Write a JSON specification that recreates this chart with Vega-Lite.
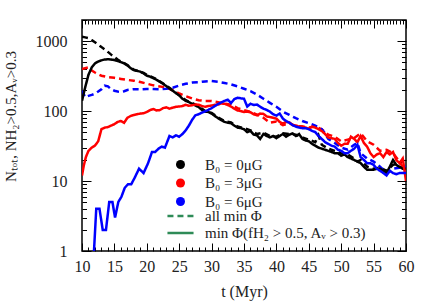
{
  "$schema": "https://vega.github.io/schema/vega-lite/v6.json",
  "autosize": {"type": "none"},
  "width": 324,
  "height": 231,
  "padding": {"left": 82, "top": 20, "right": 30, "bottom": 54},
  "background": "white",
  "config": {
    "view": {"stroke": "black", "strokeWidth": 1.5},
    "axis": {
      "labelFont": "Liberation Serif", "labelFontSize": 16, "labelColor": "#222",
      "titleFont": "Liberation Serif", "titleFontSize": 16, "titleColor": "#222", "titleFontWeight": "normal",
      "tickColor": "black", "tickWidth": 1, "domain": false, "grid": false, "labelOverlap": false, "labelFlush": false
    },
    "legend": {"labelFont": "Liberation Serif", "labelFontSize": 15, "labelColor": "#222", "labelLimit": 400}
  },
  "data": {"values": [
    {"t":10,"N":140,"B":"B₀ = 0μG","k":"s"},{"t":10.5,"N":220,"B":"B₀ = 0μG","k":"s"},{"t":11,"N":330,"B":"B₀ = 0μG","k":"s"},{"t":11.5,"N":420,"B":"B₀ = 0μG","k":"s"},{"t":12,"N":480,"B":"B₀ = 0μG","k":"s"},{"t":12.5,"N":510,"B":"B₀ = 0μG","k":"s"},{"t":13,"N":530,"B":"B₀ = 0μG","k":"s"},{"t":13.5,"N":545,"B":"B₀ = 0μG","k":"s"},{"t":14,"N":550,"B":"B₀ = 0μG","k":"s"},{"t":14.5,"N":545,"B":"B₀ = 0μG","k":"s"},{"t":15,"N":535,"B":"B₀ = 0μG","k":"s"},{"t":15.5,"N":520,"B":"B₀ = 0μG","k":"s"},{"t":16,"N":500,"B":"B₀ = 0μG","k":"s"},{"t":16.5,"N":480,"B":"B₀ = 0μG","k":"s"},{"t":17,"N":450,"B":"B₀ = 0μG","k":"s"},{"t":17.5,"N":410,"B":"B₀ = 0μG","k":"s"},{"t":18,"N":385,"B":"B₀ = 0μG","k":"s"},{"t":18.5,"N":375,"B":"B₀ = 0μG","k":"s"},{"t":19,"N":365,"B":"B₀ = 0μG","k":"s"},{"t":19.5,"N":345,"B":"B₀ = 0μG","k":"s"},{"t":20,"N":320,"B":"B₀ = 0μG","k":"s"},{"t":20.5,"N":310,"B":"B₀ = 0μG","k":"s"},{"t":21,"N":295,"B":"B₀ = 0μG","k":"s"},{"t":21.5,"N":280,"B":"B₀ = 0μG","k":"s"},{"t":22,"N":262,"B":"B₀ = 0μG","k":"s"},{"t":22.5,"N":245,"B":"B₀ = 0μG","k":"s"},{"t":23,"N":228,"B":"B₀ = 0μG","k":"s"},{"t":23.5,"N":210,"B":"B₀ = 0μG","k":"s"},{"t":24,"N":195,"B":"B₀ = 0μG","k":"s"},{"t":24.5,"N":180,"B":"B₀ = 0μG","k":"s"},{"t":25,"N":167,"B":"B₀ = 0μG","k":"s"},{"t":25.5,"N":150,"B":"B₀ = 0μG","k":"s"},{"t":26,"N":140,"B":"B₀ = 0μG","k":"s"},{"t":26.5,"N":134,"B":"B₀ = 0μG","k":"s"},{"t":27,"N":127,"B":"B₀ = 0μG","k":"s"},{"t":27.5,"N":120,"B":"B₀ = 0μG","k":"s"},{"t":28,"N":114,"B":"B₀ = 0μG","k":"s"},{"t":28.5,"N":104,"B":"B₀ = 0μG","k":"s"},{"t":29,"N":98,"B":"B₀ = 0μG","k":"s"},{"t":29.5,"N":97,"B":"B₀ = 0μG","k":"s"},{"t":30,"N":92,"B":"B₀ = 0μG","k":"s"},{"t":30.5,"N":85,"B":"B₀ = 0μG","k":"s"},{"t":31,"N":79,"B":"B₀ = 0μG","k":"s"},{"t":31.5,"N":74,"B":"B₀ = 0μG","k":"s"},{"t":32,"N":70,"B":"B₀ = 0μG","k":"s"},{"t":32.5,"N":68,"B":"B₀ = 0μG","k":"s"},{"t":33,"N":67,"B":"B₀ = 0μG","k":"s"},{"t":33.5,"N":62,"B":"B₀ = 0μG","k":"s"},{"t":34,"N":58,"B":"B₀ = 0μG","k":"s"},{"t":34.5,"N":57,"B":"B₀ = 0μG","k":"s"},{"t":35,"N":55,"B":"B₀ = 0μG","k":"s"},{"t":35.5,"N":50,"B":"B₀ = 0μG","k":"s"},{"t":36,"N":52,"B":"B₀ = 0μG","k":"s"},{"t":36.5,"N":46,"B":"B₀ = 0μG","k":"s"},{"t":37,"N":45,"B":"B₀ = 0μG","k":"s"},{"t":37.5,"N":40,"B":"B₀ = 0μG","k":"s"},{"t":38,"N":47,"B":"B₀ = 0μG","k":"s"},{"t":38.5,"N":44,"B":"B₀ = 0μG","k":"s"},{"t":39,"N":42,"B":"B₀ = 0μG","k":"s"},{"t":39.5,"N":44,"B":"B₀ = 0μG","k":"s"},{"t":40,"N":41,"B":"B₀ = 0μG","k":"s"},{"t":40.5,"N":44,"B":"B₀ = 0μG","k":"s"},{"t":41,"N":47,"B":"B₀ = 0μG","k":"s"},{"t":41.5,"N":43,"B":"B₀ = 0μG","k":"s"},{"t":42,"N":46,"B":"B₀ = 0μG","k":"s"},{"t":42.5,"N":48,"B":"B₀ = 0μG","k":"s"},{"t":43,"N":44,"B":"B₀ = 0μG","k":"s"},{"t":43.5,"N":47,"B":"B₀ = 0μG","k":"s"},{"t":44,"N":40,"B":"B₀ = 0μG","k":"s"},{"t":44.5,"N":38,"B":"B₀ = 0μG","k":"s"},{"t":45,"N":37,"B":"B₀ = 0μG","k":"s"},{"t":45.5,"N":34,"B":"B₀ = 0μG","k":"s"},{"t":46,"N":32,"B":"B₀ = 0μG","k":"s"},{"t":46.5,"N":30,"B":"B₀ = 0μG","k":"s"},{"t":47,"N":29,"B":"B₀ = 0μG","k":"s"},{"t":47.5,"N":28,"B":"B₀ = 0μG","k":"s"},{"t":48,"N":27,"B":"B₀ = 0μG","k":"s"},{"t":48.5,"N":26,"B":"B₀ = 0μG","k":"s"},{"t":49,"N":25,"B":"B₀ = 0μG","k":"s"},{"t":49.5,"N":25,"B":"B₀ = 0μG","k":"s"},{"t":50,"N":23,"B":"B₀ = 0μG","k":"s"},{"t":50.5,"N":24,"B":"B₀ = 0μG","k":"s"},{"t":51,"N":22,"B":"B₀ = 0μG","k":"s"},{"t":51.5,"N":21,"B":"B₀ = 0μG","k":"s"},{"t":52,"N":20,"B":"B₀ = 0μG","k":"s"},{"t":52.5,"N":19,"B":"B₀ = 0μG","k":"s"},{"t":53,"N":18,"B":"B₀ = 0μG","k":"s"},{"t":53.5,"N":16,"B":"B₀ = 0μG","k":"s"},{"t":54,"N":14.5,"B":"B₀ = 0μG","k":"s"},{"t":54.5,"N":14.5,"B":"B₀ = 0μG","k":"s"},{"t":55,"N":14.5,"B":"B₀ = 0μG","k":"s"},{"t":55.5,"N":15,"B":"B₀ = 0μG","k":"s"},{"t":56,"N":15,"B":"B₀ = 0μG","k":"s"},{"t":56.5,"N":14,"B":"B₀ = 0μG","k":"s"},{"t":57,"N":13,"B":"B₀ = 0μG","k":"s"},{"t":57.5,"N":16,"B":"B₀ = 0μG","k":"s"},{"t":58,"N":20,"B":"B₀ = 0μG","k":"s"},{"t":58.5,"N":17,"B":"B₀ = 0μG","k":"s"},{"t":59,"N":16,"B":"B₀ = 0μG","k":"s"},{"t":59.5,"N":15,"B":"B₀ = 0μG","k":"s"},{"t":60,"N":15,"B":"B₀ = 0μG","k":"s"},

    {"t":10,"N":1150,"B":"B₀ = 0μG","k":"d"},{"t":10.5,"N":1130,"B":"B₀ = 0μG","k":"d"},{"t":11,"N":1100,"B":"B₀ = 0μG","k":"d"},{"t":11.5,"N":1030,"B":"B₀ = 0μG","k":"d"},{"t":12,"N":960,"B":"B₀ = 0μG","k":"d"},{"t":12.5,"N":890,"B":"B₀ = 0μG","k":"d"},{"t":13,"N":820,"B":"B₀ = 0μG","k":"d"},{"t":13.5,"N":760,"B":"B₀ = 0μG","k":"d"},{"t":14,"N":700,"B":"B₀ = 0μG","k":"d"},{"t":14.5,"N":640,"B":"B₀ = 0μG","k":"d"},{"t":15,"N":590,"B":"B₀ = 0μG","k":"d"},{"t":15.5,"N":545,"B":"B₀ = 0μG","k":"d"},{"t":16,"N":510,"B":"B₀ = 0μG","k":"d"},{"t":16.5,"N":485,"B":"B₀ = 0μG","k":"d"},{"t":17,"N":455,"B":"B₀ = 0μG","k":"d"},{"t":17.5,"N":420,"B":"B₀ = 0μG","k":"d"},{"t":18,"N":390,"B":"B₀ = 0μG","k":"d"},{"t":18.5,"N":378,"B":"B₀ = 0μG","k":"d"},{"t":19,"N":368,"B":"B₀ = 0μG","k":"d"},{"t":19.5,"N":350,"B":"B₀ = 0μG","k":"d"},{"t":20,"N":328,"B":"B₀ = 0μG","k":"d"},{"t":20.5,"N":315,"B":"B₀ = 0μG","k":"d"},{"t":21,"N":300,"B":"B₀ = 0μG","k":"d"},{"t":21.5,"N":285,"B":"B₀ = 0μG","k":"d"},{"t":22,"N":265,"B":"B₀ = 0μG","k":"d"},{"t":23,"N":232,"B":"B₀ = 0μG","k":"d"},{"t":24,"N":198,"B":"B₀ = 0μG","k":"d"},{"t":25,"N":170,"B":"B₀ = 0μG","k":"d"},{"t":26,"N":143,"B":"B₀ = 0μG","k":"d"},{"t":27,"N":130,"B":"B₀ = 0μG","k":"d"},{"t":28,"N":117,"B":"B₀ = 0μG","k":"d"},{"t":29,"N":100,"B":"B₀ = 0μG","k":"d"},{"t":30,"N":94,"B":"B₀ = 0μG","k":"d"},{"t":31,"N":81,"B":"B₀ = 0μG","k":"d"},{"t":32,"N":72,"B":"B₀ = 0μG","k":"d"},{"t":33,"N":69,"B":"B₀ = 0μG","k":"d"},{"t":33.5,"N":64,"B":"B₀ = 0μG","k":"d"},{"t":34,"N":60,"B":"B₀ = 0μG","k":"d"},{"t":35,"N":57,"B":"B₀ = 0μG","k":"d"},{"t":36,"N":53,"B":"B₀ = 0μG","k":"d"},{"t":37,"N":47,"B":"B₀ = 0μG","k":"d"},{"t":38,"N":49,"B":"B₀ = 0μG","k":"d"},{"t":39,"N":44,"B":"B₀ = 0μG","k":"d"},{"t":40,"N":43,"B":"B₀ = 0μG","k":"d"},{"t":41,"N":48,"B":"B₀ = 0μG","k":"d"},{"t":42,"N":47,"B":"B₀ = 0μG","k":"d"},{"t":43,"N":46,"B":"B₀ = 0μG","k":"d"},{"t":44,"N":42,"B":"B₀ = 0μG","k":"d"},{"t":45,"N":39,"B":"B₀ = 0μG","k":"d"},{"t":46,"N":36,"B":"B₀ = 0μG","k":"d"},{"t":46.5,"N":45,"B":"B₀ = 0μG","k":"d"},{"t":47,"N":33,"B":"B₀ = 0μG","k":"d"},{"t":48,"N":29,"B":"B₀ = 0μG","k":"d"},{"t":49,"N":27,"B":"B₀ = 0μG","k":"d"},{"t":50,"N":25,"B":"B₀ = 0μG","k":"d"},{"t":51,"N":24,"B":"B₀ = 0μG","k":"d"},{"t":52,"N":21,"B":"B₀ = 0μG","k":"d"},{"t":52.5,"N":19,"B":"B₀ = 0μG","k":"d"},{"t":53,"N":20,"B":"B₀ = 0μG","k":"d"},{"t":54,"N":16,"B":"B₀ = 0μG","k":"d"},{"t":55,"N":15,"B":"B₀ = 0μG","k":"d"},{"t":56,"N":15.5,"B":"B₀ = 0μG","k":"d"},{"t":57,"N":14,"B":"B₀ = 0μG","k":"d"},{"t":58,"N":17,"B":"B₀ = 0μG","k":"d"},{"t":59,"N":18,"B":"B₀ = 0μG","k":"d"},{"t":60,"N":21,"B":"B₀ = 0μG","k":"d"},

    {"t":10,"N":12,"B":"B₀ = 3μG","k":"s"},{"t":10.3,"N":17,"B":"B₀ = 3μG","k":"s"},{"t":10.6,"N":22,"B":"B₀ = 3μG","k":"s"},{"t":11,"N":27,"B":"B₀ = 3μG","k":"s"},{"t":11.5,"N":30,"B":"B₀ = 3μG","k":"s"},{"t":12,"N":32,"B":"B₀ = 3μG","k":"s"},{"t":12.5,"N":37,"B":"B₀ = 3μG","k":"s"},{"t":13,"N":55,"B":"B₀ = 3μG","k":"s"},{"t":13.5,"N":58,"B":"B₀ = 3μG","k":"s"},{"t":14,"N":59,"B":"B₀ = 3μG","k":"s"},{"t":14.5,"N":62,"B":"B₀ = 3μG","k":"s"},{"t":15,"N":65,"B":"B₀ = 3μG","k":"s"},{"t":15.5,"N":70,"B":"B₀ = 3μG","k":"s"},{"t":16,"N":72,"B":"B₀ = 3μG","k":"s"},{"t":16.5,"N":68,"B":"B₀ = 3μG","k":"s"},{"t":17,"N":80,"B":"B₀ = 3μG","k":"s"},{"t":17.5,"N":85,"B":"B₀ = 3μG","k":"s"},{"t":18,"N":88,"B":"B₀ = 3μG","k":"s"},{"t":18.5,"N":90,"B":"B₀ = 3μG","k":"s"},{"t":19,"N":92,"B":"B₀ = 3μG","k":"s"},{"t":19.5,"N":93,"B":"B₀ = 3μG","k":"s"},{"t":20,"N":97,"B":"B₀ = 3μG","k":"s"},{"t":20.5,"N":103,"B":"B₀ = 3μG","k":"s"},{"t":21,"N":107,"B":"B₀ = 3μG","k":"s"},{"t":21.5,"N":102,"B":"B₀ = 3μG","k":"s"},{"t":22,"N":103,"B":"B₀ = 3μG","k":"s"},{"t":22.5,"N":110,"B":"B₀ = 3μG","k":"s"},{"t":23,"N":113,"B":"B₀ = 3μG","k":"s"},{"t":23.5,"N":108,"B":"B₀ = 3μG","k":"s"},{"t":24,"N":112,"B":"B₀ = 3μG","k":"s"},{"t":24.5,"N":115,"B":"B₀ = 3μG","k":"s"},{"t":25,"N":116,"B":"B₀ = 3μG","k":"s"},{"t":25.5,"N":118,"B":"B₀ = 3μG","k":"s"},{"t":26,"N":123,"B":"B₀ = 3μG","k":"s"},{"t":26.5,"N":119,"B":"B₀ = 3μG","k":"s"},{"t":27,"N":121,"B":"B₀ = 3μG","k":"s"},{"t":27.5,"N":124,"B":"B₀ = 3μG","k":"s"},{"t":28,"N":123,"B":"B₀ = 3μG","k":"s"},{"t":28.5,"N":118,"B":"B₀ = 3μG","k":"s"},{"t":29,"N":115,"B":"B₀ = 3μG","k":"s"},{"t":29.5,"N":118,"B":"B₀ = 3μG","k":"s"},{"t":30,"N":120,"B":"B₀ = 3μG","k":"s"},{"t":30.5,"N":123,"B":"B₀ = 3μG","k":"s"},{"t":31,"N":124,"B":"B₀ = 3μG","k":"s"},{"t":31.5,"N":128,"B":"B₀ = 3μG","k":"s"},{"t":32,"N":127,"B":"B₀ = 3μG","k":"s"},{"t":32.5,"N":122,"B":"B₀ = 3μG","k":"s"},{"t":33,"N":116,"B":"B₀ = 3μG","k":"s"},{"t":33.5,"N":108,"B":"B₀ = 3μG","k":"s"},{"t":34,"N":102,"B":"B₀ = 3μG","k":"s"},{"t":34.5,"N":100,"B":"B₀ = 3μG","k":"s"},{"t":35,"N":97,"B":"B₀ = 3μG","k":"s"},{"t":35.5,"N":98,"B":"B₀ = 3μG","k":"s"},{"t":36,"N":96,"B":"B₀ = 3μG","k":"s"},{"t":36.5,"N":90,"B":"B₀ = 3μG","k":"s"},{"t":37,"N":87,"B":"B₀ = 3μG","k":"s"},{"t":37.5,"N":92,"B":"B₀ = 3μG","k":"s"},{"t":38,"N":91,"B":"B₀ = 3μG","k":"s"},{"t":38.5,"N":84,"B":"B₀ = 3μG","k":"s"},{"t":39,"N":82,"B":"B₀ = 3μG","k":"s"},{"t":39.5,"N":80,"B":"B₀ = 3μG","k":"s"},{"t":40,"N":78,"B":"B₀ = 3μG","k":"s"},{"t":40.5,"N":70,"B":"B₀ = 3μG","k":"s"},{"t":41,"N":66,"B":"B₀ = 3μG","k":"s"},{"t":41.5,"N":70,"B":"B₀ = 3μG","k":"s"},{"t":42,"N":69,"B":"B₀ = 3μG","k":"s"},{"t":42.5,"N":63,"B":"B₀ = 3μG","k":"s"},{"t":43,"N":62,"B":"B₀ = 3μG","k":"s"},{"t":43.5,"N":60,"B":"B₀ = 3μG","k":"s"},{"t":44,"N":60,"B":"B₀ = 3μG","k":"s"},{"t":44.5,"N":58,"B":"B₀ = 3μG","k":"s"},{"t":45,"N":56,"B":"B₀ = 3μG","k":"s"},{"t":45.5,"N":60,"B":"B₀ = 3μG","k":"s"},{"t":46,"N":58,"B":"B₀ = 3μG","k":"s"},{"t":46.5,"N":55,"B":"B₀ = 3μG","k":"s"},{"t":47,"N":52,"B":"B₀ = 3μG","k":"s"},{"t":47.5,"N":47,"B":"B₀ = 3μG","k":"s"},{"t":48,"N":42,"B":"B₀ = 3μG","k":"s"},{"t":48.5,"N":41,"B":"B₀ = 3μG","k":"s"},{"t":49,"N":40,"B":"B₀ = 3μG","k":"s"},{"t":49.5,"N":35,"B":"B₀ = 3μG","k":"s"},{"t":50,"N":32,"B":"B₀ = 3μG","k":"s"},{"t":50.5,"N":34,"B":"B₀ = 3μG","k":"s"},{"t":51,"N":34,"B":"B₀ = 3μG","k":"s"},{"t":51.5,"N":43,"B":"B₀ = 3μG","k":"s"},{"t":52,"N":40,"B":"B₀ = 3μG","k":"s"},{"t":52.5,"N":36,"B":"B₀ = 3μG","k":"s"},{"t":53,"N":44,"B":"B₀ = 3μG","k":"s"},{"t":53.5,"N":35,"B":"B₀ = 3μG","k":"s"},{"t":54,"N":31,"B":"B₀ = 3μG","k":"s"},{"t":54.5,"N":25,"B":"B₀ = 3μG","k":"s"},{"t":55,"N":22,"B":"B₀ = 3μG","k":"s"},{"t":55.5,"N":24,"B":"B₀ = 3μG","k":"s"},{"t":56,"N":25,"B":"B₀ = 3μG","k":"s"},{"t":56.5,"N":22,"B":"B₀ = 3μG","k":"s"},{"t":57,"N":26,"B":"B₀ = 3μG","k":"s"},{"t":57.5,"N":24,"B":"B₀ = 3μG","k":"s"},{"t":58,"N":26,"B":"B₀ = 3μG","k":"s"},{"t":58.5,"N":20,"B":"B₀ = 3μG","k":"s"},{"t":59,"N":18,"B":"B₀ = 3μG","k":"s"},{"t":59.5,"N":21,"B":"B₀ = 3μG","k":"s"},{"t":60,"N":10,"B":"B₀ = 3μG","k":"s"},

    {"t":10,"N":400,"B":"B₀ = 3μG","k":"d"},{"t":11,"N":420,"B":"B₀ = 3μG","k":"d"},{"t":11.5,"N":380,"B":"B₀ = 3μG","k":"d"},{"t":12,"N":355,"B":"B₀ = 3μG","k":"d"},{"t":12.5,"N":335,"B":"B₀ = 3μG","k":"d"},{"t":13,"N":320,"B":"B₀ = 3μG","k":"d"},{"t":14,"N":305,"B":"B₀ = 3μG","k":"d"},{"t":15,"N":298,"B":"B₀ = 3μG","k":"d"},{"t":16,"N":288,"B":"B₀ = 3μG","k":"d"},{"t":17,"N":278,"B":"B₀ = 3μG","k":"d"},{"t":18,"N":272,"B":"B₀ = 3μG","k":"d"},{"t":19,"N":260,"B":"B₀ = 3μG","k":"d"},{"t":20,"N":246,"B":"B₀ = 3μG","k":"d"},{"t":21,"N":233,"B":"B₀ = 3μG","k":"d"},{"t":22,"N":225,"B":"B₀ = 3μG","k":"d"},{"t":23,"N":215,"B":"B₀ = 3μG","k":"d"},{"t":24,"N":198,"B":"B₀ = 3μG","k":"d"},{"t":25,"N":178,"B":"B₀ = 3μG","k":"d"},{"t":26,"N":163,"B":"B₀ = 3μG","k":"d"},{"t":27,"N":151,"B":"B₀ = 3μG","k":"d"},{"t":28,"N":143,"B":"B₀ = 3μG","k":"d"},{"t":29,"N":139,"B":"B₀ = 3μG","k":"d"},{"t":30,"N":139,"B":"B₀ = 3μG","k":"d"},{"t":31,"N":134,"B":"B₀ = 3μG","k":"d"},{"t":32,"N":128,"B":"B₀ = 3μG","k":"d"},{"t":33,"N":123,"B":"B₀ = 3μG","k":"d"},{"t":34,"N":110,"B":"B₀ = 3μG","k":"d"},{"t":35,"N":103,"B":"B₀ = 3μG","k":"d"},{"t":36,"N":97,"B":"B₀ = 3μG","k":"d"},{"t":37,"N":89,"B":"B₀ = 3μG","k":"d"},{"t":38,"N":80,"B":"B₀ = 3μG","k":"d"},{"t":39,"N":68,"B":"B₀ = 3μG","k":"d"},{"t":40,"N":71,"B":"B₀ = 3μG","k":"d"},{"t":41,"N":63,"B":"B₀ = 3μG","k":"d"},{"t":42,"N":67,"B":"B₀ = 3μG","k":"d"},{"t":43,"N":61,"B":"B₀ = 3μG","k":"d"},{"t":44,"N":60,"B":"B₀ = 3μG","k":"d"},{"t":45,"N":58,"B":"B₀ = 3μG","k":"d"},{"t":46,"N":60,"B":"B₀ = 3μG","k":"d"},{"t":47,"N":55,"B":"B₀ = 3μG","k":"d"},{"t":48,"N":46,"B":"B₀ = 3μG","k":"d"},{"t":49,"N":43,"B":"B₀ = 3μG","k":"d"},{"t":50,"N":37,"B":"B₀ = 3μG","k":"d"},{"t":51,"N":39,"B":"B₀ = 3μG","k":"d"},{"t":52,"N":41,"B":"B₀ = 3μG","k":"d"},{"t":53,"N":48,"B":"B₀ = 3μG","k":"d"},{"t":54,"N":37,"B":"B₀ = 3μG","k":"d"},{"t":55,"N":33,"B":"B₀ = 3μG","k":"d"},{"t":56,"N":27,"B":"B₀ = 3μG","k":"d"},{"t":57,"N":28,"B":"B₀ = 3μG","k":"d"},{"t":58,"N":25,"B":"B₀ = 3μG","k":"d"},{"t":59,"N":19,"B":"B₀ = 3μG","k":"d"},{"t":60,"N":13,"B":"B₀ = 3μG","k":"d"},

    {"t":11.85,"N":1,"B":"B₀ = 6μG","k":"s"},{"t":12.2,"N":4,"B":"B₀ = 6μG","k":"s"},{"t":12.7,"N":4,"B":"B₀ = 6μG","k":"s"},{"t":13.2,"N":2,"B":"B₀ = 6μG","k":"s"},{"t":13.7,"N":2,"B":"B₀ = 6μG","k":"s"},{"t":14.2,"N":5,"B":"B₀ = 6μG","k":"s"},{"t":14.7,"N":5,"B":"B₀ = 6μG","k":"s"},{"t":15.1,"N":3,"B":"B₀ = 6μG","k":"s"},{"t":15.6,"N":5,"B":"B₀ = 6μG","k":"s"},{"t":16.1,"N":6,"B":"B₀ = 6μG","k":"s"},{"t":16.6,"N":8,"B":"B₀ = 6μG","k":"s"},{"t":17.1,"N":9,"B":"B₀ = 6μG","k":"s"},{"t":17.6,"N":9,"B":"B₀ = 6μG","k":"s"},{"t":18.1,"N":11,"B":"B₀ = 6μG","k":"s"},{"t":18.8,"N":15,"B":"B₀ = 6μG","k":"s"},{"t":19.5,"N":13,"B":"B₀ = 6μG","k":"s"},{"t":20.2,"N":18,"B":"B₀ = 6μG","k":"s"},{"t":20.8,"N":26,"B":"B₀ = 6μG","k":"s"},{"t":21.3,"N":26,"B":"B₀ = 6μG","k":"s"},{"t":21.8,"N":29,"B":"B₀ = 6μG","k":"s"},{"t":22.3,"N":31,"B":"B₀ = 6μG","k":"s"},{"t":22.8,"N":30,"B":"B₀ = 6μG","k":"s"},{"t":23.5,"N":44,"B":"B₀ = 6μG","k":"s"},{"t":24,"N":42,"B":"B₀ = 6μG","k":"s"},{"t":24.5,"N":45,"B":"B₀ = 6μG","k":"s"},{"t":25,"N":43,"B":"B₀ = 6μG","k":"s"},{"t":25.5,"N":47,"B":"B₀ = 6μG","k":"s"},{"t":26,"N":53,"B":"B₀ = 6μG","k":"s"},{"t":26.5,"N":62,"B":"B₀ = 6μG","k":"s"},{"t":27,"N":75,"B":"B₀ = 6μG","k":"s"},{"t":27.5,"N":87,"B":"B₀ = 6μG","k":"s"},{"t":28,"N":90,"B":"B₀ = 6μG","k":"s"},{"t":28.5,"N":95,"B":"B₀ = 6μG","k":"s"},{"t":29,"N":99,"B":"B₀ = 6μG","k":"s"},{"t":29.5,"N":104,"B":"B₀ = 6μG","k":"s"},{"t":30,"N":110,"B":"B₀ = 6μG","k":"s"},{"t":30.5,"N":118,"B":"B₀ = 6μG","k":"s"},{"t":31,"N":126,"B":"B₀ = 6μG","k":"s"},{"t":31.5,"N":133,"B":"B₀ = 6μG","k":"s"},{"t":32,"N":140,"B":"B₀ = 6μG","k":"s"},{"t":32.5,"N":145,"B":"B₀ = 6μG","k":"s"},{"t":33,"N":130,"B":"B₀ = 6μG","k":"s"},{"t":33.5,"N":148,"B":"B₀ = 6μG","k":"s"},{"t":34,"N":155,"B":"B₀ = 6μG","k":"s"},{"t":34.5,"N":152,"B":"B₀ = 6μG","k":"s"},{"t":35,"N":150,"B":"B₀ = 6μG","k":"s"},{"t":35.5,"N":116,"B":"B₀ = 6μG","k":"s"},{"t":36,"N":127,"B":"B₀ = 6μG","k":"s"},{"t":36.5,"N":122,"B":"B₀ = 6μG","k":"s"},{"t":37,"N":124,"B":"B₀ = 6μG","k":"s"},{"t":37.5,"N":115,"B":"B₀ = 6μG","k":"s"},{"t":38,"N":108,"B":"B₀ = 6μG","k":"s"},{"t":38.5,"N":104,"B":"B₀ = 6μG","k":"s"},{"t":39,"N":98,"B":"B₀ = 6μG","k":"s"},{"t":39.5,"N":90,"B":"B₀ = 6μG","k":"s"},{"t":40,"N":86,"B":"B₀ = 6μG","k":"s"},{"t":40.5,"N":92,"B":"B₀ = 6μG","k":"s"},{"t":41,"N":78,"B":"B₀ = 6μG","k":"s"},{"t":41.5,"N":72,"B":"B₀ = 6μG","k":"s"},{"t":42,"N":68,"B":"B₀ = 6μG","k":"s"},{"t":42.5,"N":63,"B":"B₀ = 6μG","k":"s"},{"t":43,"N":60,"B":"B₀ = 6μG","k":"s"},{"t":43.5,"N":58,"B":"B₀ = 6μG","k":"s"},{"t":44,"N":57,"B":"B₀ = 6μG","k":"s"},{"t":44.5,"N":57,"B":"B₀ = 6μG","k":"s"},{"t":45,"N":55,"B":"B₀ = 6μG","k":"s"},{"t":45.5,"N":52,"B":"B₀ = 6μG","k":"s"},{"t":46,"N":50,"B":"B₀ = 6μG","k":"s"},{"t":46.5,"N":44,"B":"B₀ = 6μG","k":"s"},{"t":47,"N":40,"B":"B₀ = 6μG","k":"s"},{"t":47.5,"N":36,"B":"B₀ = 6μG","k":"s"},{"t":48,"N":34,"B":"B₀ = 6μG","k":"s"},{"t":48.5,"N":32,"B":"B₀ = 6μG","k":"s"},{"t":49,"N":31,"B":"B₀ = 6μG","k":"s"},{"t":49.5,"N":28,"B":"B₀ = 6μG","k":"s"},{"t":50,"N":27,"B":"B₀ = 6μG","k":"s"},{"t":50.5,"N":25,"B":"B₀ = 6μG","k":"s"},{"t":51,"N":25,"B":"B₀ = 6μG","k":"s"},{"t":51.5,"N":27,"B":"B₀ = 6μG","k":"s"},{"t":52,"N":29,"B":"B₀ = 6μG","k":"s"},{"t":52.5,"N":33,"B":"B₀ = 6μG","k":"s"},{"t":53,"N":22,"B":"B₀ = 6μG","k":"s"},{"t":53.5,"N":20,"B":"B₀ = 6μG","k":"s"},{"t":54,"N":18,"B":"B₀ = 6μG","k":"s"},{"t":54.5,"N":18,"B":"B₀ = 6μG","k":"s"},{"t":55,"N":17,"B":"B₀ = 6μG","k":"s"},{"t":55.5,"N":15,"B":"B₀ = 6μG","k":"s"},{"t":56,"N":14,"B":"B₀ = 6μG","k":"s"},{"t":56.5,"N":13,"B":"B₀ = 6μG","k":"s"},{"t":57,"N":12,"B":"B₀ = 6μG","k":"s"},{"t":57.5,"N":14,"B":"B₀ = 6μG","k":"s"},{"t":58,"N":13,"B":"B₀ = 6μG","k":"s"},{"t":58.5,"N":12.5,"B":"B₀ = 6μG","k":"s"},{"t":59,"N":13,"B":"B₀ = 6μG","k":"s"},{"t":59.5,"N":13,"B":"B₀ = 6μG","k":"s"},{"t":60,"N":13,"B":"B₀ = 6μG","k":"s"},

    {"t":10,"N":195,"B":"B₀ = 6μG","k":"d"},{"t":10.5,"N":158,"B":"B₀ = 6μG","k":"d"},{"t":11,"N":165,"B":"B₀ = 6μG","k":"d"},{"t":11.5,"N":170,"B":"B₀ = 6μG","k":"d"},{"t":12,"N":177,"B":"B₀ = 6μG","k":"d"},{"t":12.5,"N":190,"B":"B₀ = 6μG","k":"d"},{"t":13,"N":205,"B":"B₀ = 6μG","k":"d"},{"t":13.5,"N":230,"B":"B₀ = 6μG","k":"d"},{"t":14,"N":225,"B":"B₀ = 6μG","k":"d"},{"t":14.5,"N":205,"B":"B₀ = 6μG","k":"d"},{"t":15,"N":195,"B":"B₀ = 6μG","k":"d"},{"t":15.5,"N":190,"B":"B₀ = 6μG","k":"d"},{"t":16,"N":188,"B":"B₀ = 6μG","k":"d"},{"t":16.5,"N":192,"B":"B₀ = 6μG","k":"d"},{"t":17,"N":200,"B":"B₀ = 6μG","k":"d"},{"t":18,"N":205,"B":"B₀ = 6μG","k":"d"},{"t":19,"N":204,"B":"B₀ = 6μG","k":"d"},{"t":20,"N":207,"B":"B₀ = 6μG","k":"d"},{"t":21,"N":206,"B":"B₀ = 6μG","k":"d"},{"t":22,"N":205,"B":"B₀ = 6μG","k":"d"},{"t":23,"N":208,"B":"B₀ = 6μG","k":"d"},{"t":24,"N":215,"B":"B₀ = 6μG","k":"d"},{"t":25,"N":232,"B":"B₀ = 6μG","k":"d"},{"t":26,"N":245,"B":"B₀ = 6μG","k":"d"},{"t":27,"N":255,"B":"B₀ = 6μG","k":"d"},{"t":28,"N":258,"B":"B₀ = 6μG","k":"d"},{"t":29,"N":265,"B":"B₀ = 6μG","k":"d"},{"t":30,"N":268,"B":"B₀ = 6μG","k":"d"},{"t":31,"N":262,"B":"B₀ = 6μG","k":"d"},{"t":32,"N":252,"B":"B₀ = 6μG","k":"d"},{"t":33,"N":240,"B":"B₀ = 6μG","k":"d"},{"t":34,"N":225,"B":"B₀ = 6μG","k":"d"},{"t":35,"N":208,"B":"B₀ = 6μG","k":"d"},{"t":36,"N":193,"B":"B₀ = 6μG","k":"d"},{"t":37,"N":172,"B":"B₀ = 6μG","k":"d"},{"t":38,"N":150,"B":"B₀ = 6μG","k":"d"},{"t":39,"N":131,"B":"B₀ = 6μG","k":"d"},{"t":40,"N":115,"B":"B₀ = 6μG","k":"d"},{"t":41,"N":98,"B":"B₀ = 6μG","k":"d"},{"t":42,"N":88,"B":"B₀ = 6μG","k":"d"},{"t":43,"N":79,"B":"B₀ = 6μG","k":"d"},{"t":44,"N":72,"B":"B₀ = 6μG","k":"d"},{"t":45,"N":67,"B":"B₀ = 6μG","k":"d"},{"t":46,"N":62,"B":"B₀ = 6μG","k":"d"},{"t":47,"N":55,"B":"B₀ = 6μG","k":"d"},{"t":47.5,"N":48,"B":"B₀ = 6μG","k":"d"},{"t":48,"N":40,"B":"B₀ = 6μG","k":"d"},{"t":49,"N":35,"B":"B₀ = 6μG","k":"d"},{"t":50,"N":30,"B":"B₀ = 6μG","k":"d"},{"t":51,"N":28,"B":"B₀ = 6μG","k":"d"},{"t":52,"N":33,"B":"B₀ = 6μG","k":"d"},{"t":52.5,"N":35,"B":"B₀ = 6μG","k":"d"},{"t":53,"N":25,"B":"B₀ = 6μG","k":"d"},{"t":54,"N":21,"B":"B₀ = 6μG","k":"d"},{"t":55,"N":19,"B":"B₀ = 6μG","k":"d"},{"t":56,"N":16,"B":"B₀ = 6μG","k":"d"},{"t":57,"N":13,"B":"B₀ = 6μG","k":"d"},{"t":58,"N":15,"B":"B₀ = 6μG","k":"d"},{"t":59,"N":15.5,"B":"B₀ = 6μG","k":"d"},{"t":60,"N":16,"B":"B₀ = 6μG","k":"d"}
  ]},
  "layer": [
    {
      "transform": [{"filter": "datum.k === 'd'"}],
      "mark": {"type": "line", "strokeWidth": 2.5, "clip": true},
      "encoding": {
        "x": {"field": "t", "type": "quantitative", "scale": {"domain": [10, 60], "nice": false},
          "axis": {"orient": "top", "labels": false, "title": null,
            "values": [10,10.5,11,11.5,12,12.5,13,13.5,14,14.5,15,15.5,16,16.5,17,17.5,18,18.5,19,19.5,20,20.5,21,21.5,22,22.5,23,23.5,24,24.5,25,25.5,26,26.5,27,27.5,28,28.5,29,29.5,30,30.5,31,31.5,32,32.5,33,33.5,34,34.5,35,35.5,36,36.5,37,37.5,38,38.5,39,39.5,40,40.5,41,41.5,42,42.5,43,43.5,44,44.5,45,45.5,46,46.5,47,47.5,48,48.5,49,49.5,50,50.5,51,51.5,52,52.5,53,53.5,54,54.5,55,55.5,56,56.5,57,57.5,58,58.5,59,59.5,60],
            "tickSize": {"condition": {"test": "datum.value % 5 === 0", "value": -8}, "value": -4}}},
        "y": {"field": "N", "type": "quantitative", "scale": {"type": "log", "domain": [1, 2000], "nice": false},
          "axis": {"orient": "right", "labels": false, "title": null,
            "values": [1,2,3,4,5,6,7,8,9,10,20,30,40,50,60,70,80,90,100,200,300,400,500,600,700,800,900,1000,2000],
            "tickSize": {"condition": {"test": "indexof([1,10,100,1000], datum.value) >= 0", "value": -9}, "value": -4.5}}},
        "color": {"field": "B", "type": "nominal",
          "scale": {"domain": ["B₀ = 0μG", "B₀ = 3μG", "B₀ = 6μG"], "range": ["#000000", "#ff0000", "#0000ff"]},
          "legend": {"orient": "none", "legendX": 91, "legendY": 137, "title": null, "symbolType": "circle", "symbolSize": 81,
            "labelOffset": 17, "rowPadding": 2.5, "padding": 0, "symbolStrokeWidth": 0,
            "encode": {"symbols": {"update": {"fill": {"scale": "color", "field": "value"}, "fillOpacity": {"value": 1}}}}}},
        "strokeDash": {"field": "k", "type": "nominal",
          "scale": {"domain": ["d", "s"], "range": [[6, 4], [1, 0]]},
          "legend": {"orient": "none", "legendX": 91, "legendY": 188.5, "title": null, "symbolType": "M-2.9,0H2.9", "symbolSize": 81,
            "symbolStrokeColor": "#2e8b57", "symbolStrokeWidth": 2.5, "labelOffset": 17, "rowPadding": 1, "padding": 0,
            "labelExpr": "datum.value === 'd' ? 'all min Φ' : 'min Φ(fH₂ > 0.5, Aᵥ > 0.3)'"}},
        "detail": {"field": "B"}
      }
    },
    {
      "transform": [{"filter": "datum.k === 's'"}],
      "mark": {"type": "line", "strokeWidth": 2.5, "clip": true},
      "encoding": {
        "x": {"field": "t", "type": "quantitative",
          "axis": {"orient": "bottom", "title": "t (Myr)", "titlePadding": 5, "labelPadding": 15, "format": "d",
            "labelFont": "Liberation Serif", "labelFontSize": 16,
            "labelExpr": "datum.value % 5 === 0 ? datum.label : ''",
            "values": [10,10.5,11,11.5,12,12.5,13,13.5,14,14.5,15,15.5,16,16.5,17,17.5,18,18.5,19,19.5,20,20.5,21,21.5,22,22.5,23,23.5,24,24.5,25,25.5,26,26.5,27,27.5,28,28.5,29,29.5,30,30.5,31,31.5,32,32.5,33,33.5,34,34.5,35,35.5,36,36.5,37,37.5,38,38.5,39,39.5,40,40.5,41,41.5,42,42.5,43,43.5,44,44.5,45,45.5,46,46.5,47,47.5,48,48.5,49,49.5,50,50.5,51,51.5,52,52.5,53,53.5,54,54.5,55,55.5,56,56.5,57,57.5,58,58.5,59,59.5,60],
            "tickSize": {"condition": {"test": "datum.value % 5 === 0", "value": -8}, "value": -4}}},
        "y": {"field": "N", "type": "quantitative",
          "axis": {"orient": "left", "title": "Nₜₒₜ,  NH₂>0.5,Aᵥ>0.3", "labelPadding": 24, "format": "d",
            "labelFont": "Liberation Serif", "labelFontSize": 16,
            "titleFontSize": 15, "titleY": 96, "titleX": -64, "titleAlign": "center", "titleAnchor": null,
            "labelExpr": "indexof([1,10,100,1000], datum.value) >= 0 ? datum.label : ''",
            "values": [1,2,3,4,5,6,7,8,9,10,20,30,40,50,60,70,80,90,100,200,300,400,500,600,700,800,900,1000,2000],
            "tickSize": {"condition": {"test": "indexof([1,10,100,1000], datum.value) >= 0", "value": -9}, "value": -4.5}}},
        "color": {"field": "B", "type": "nominal"},
        "strokeDash": {"field": "k", "type": "nominal"},
        "detail": {"field": "B"}
      }
    }
  ],
  "resolve": {"axis": {"x": "independent", "y": "independent"}}
}
